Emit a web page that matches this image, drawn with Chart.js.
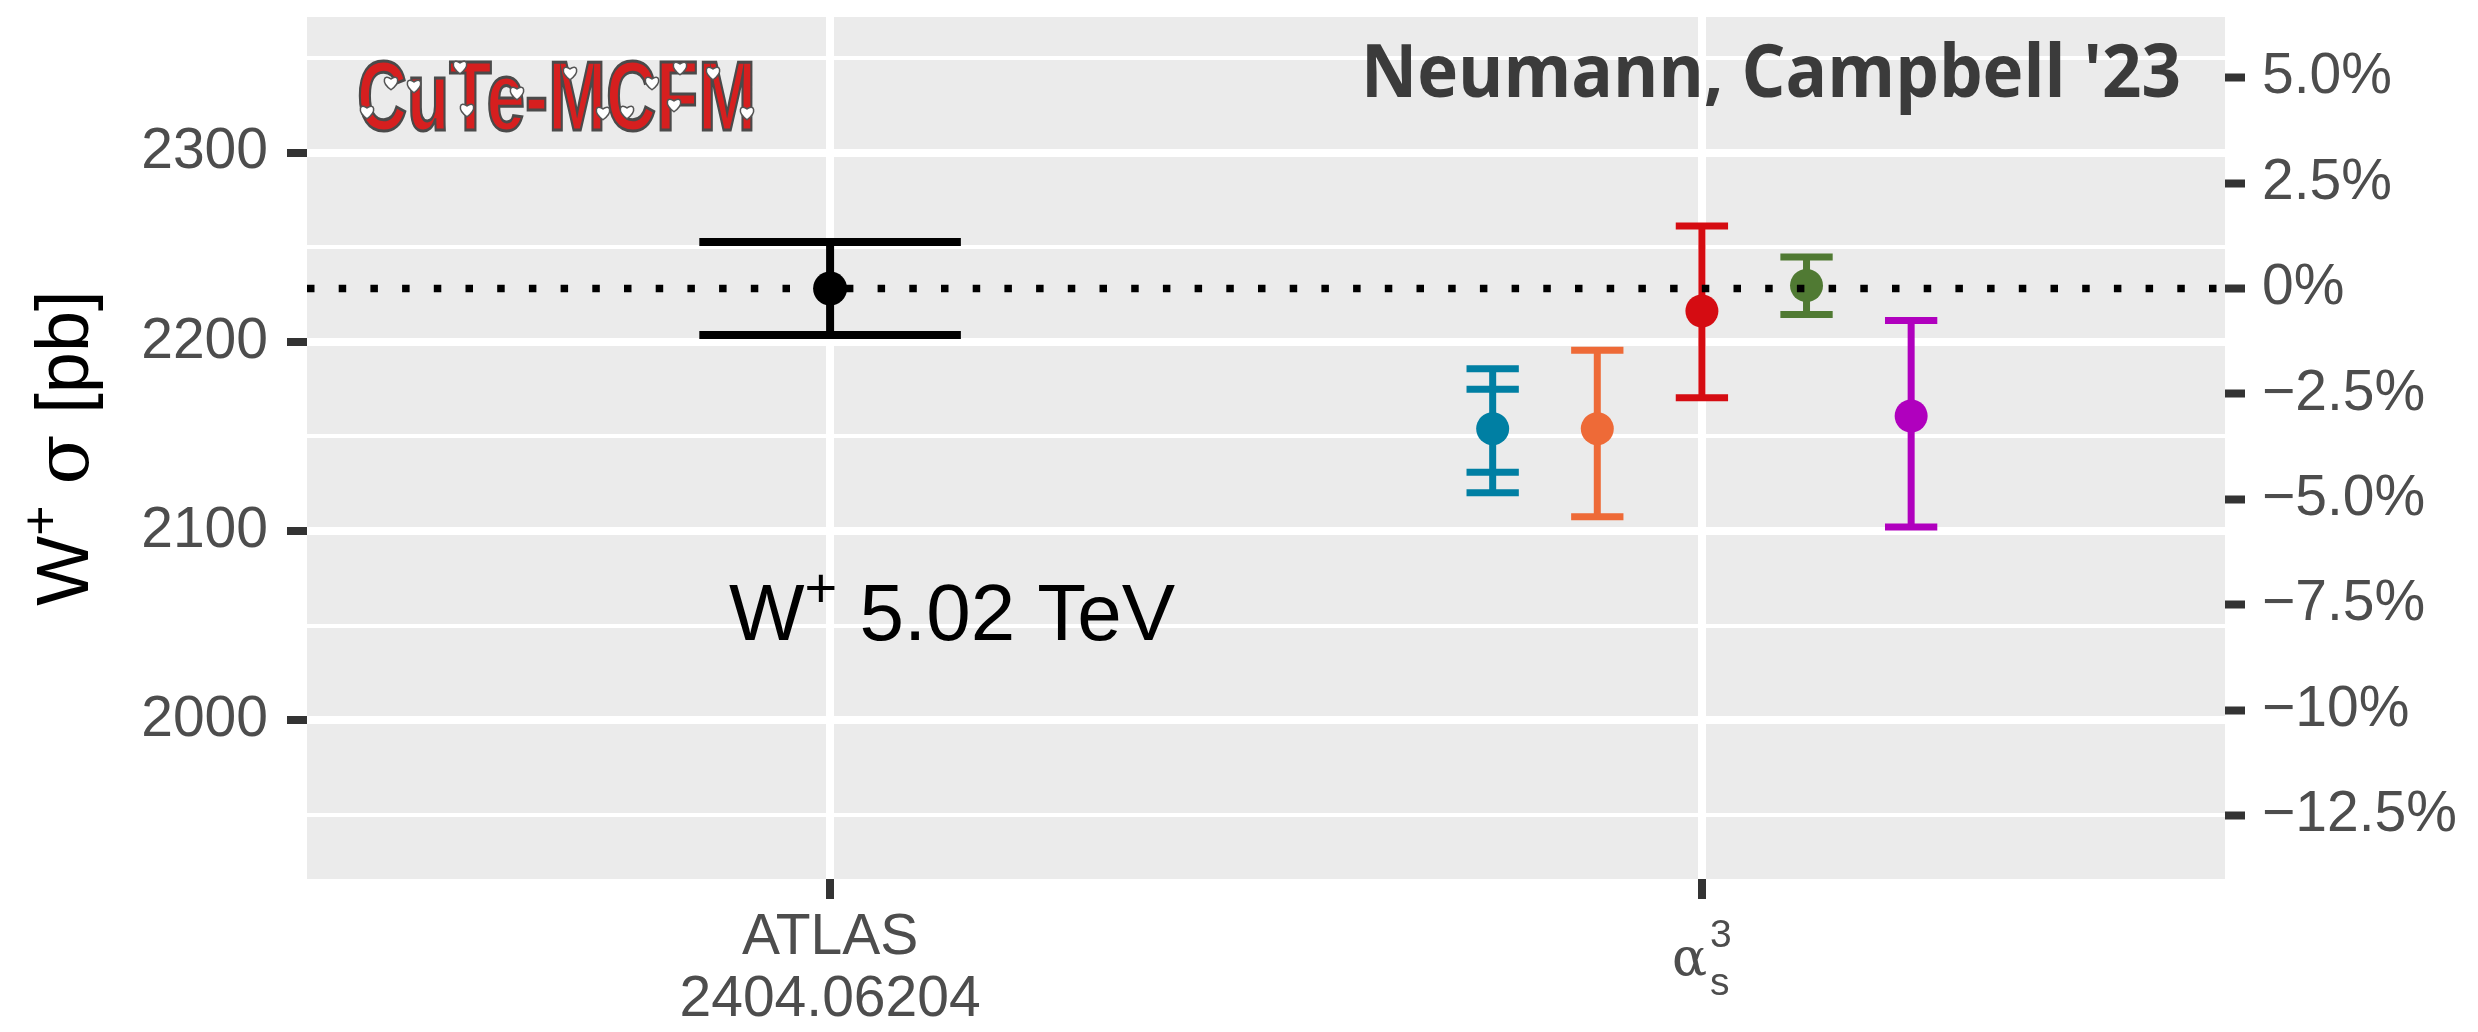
<!DOCTYPE html>
<html>
<head>
<meta charset="utf-8">
<script src="https://cdn.jsdelivr.net/npm/chart.js@4.4.1/dist/chart.umd.min.js"></script>
<style>
  html, body { margin: 0; padding: 0; background: #fff; }
</style>
</head>
<body>
<canvas id="chart" width="2478" height="1032"></canvas>
<script>
// categories on the x axis (second one is drawn as alpha_s^3 by hand)
const categories = [['ATLAS', '2404.06204'], 'alpha_s^3'];

// ATLAS measurement
const measCentral = [2228.2];
const measLow = [2203.6];
const measHigh = [2252.8];

// alpha_s^3 predictions
const theoryCentral = [2154.1, 2154.1, 2216.3, 2229.8, 2160.8];
const theoryLow = [2120.2, 2107.6, 2170.5, 2214.4, 2102.2];
const theoryHigh = [2185.8, 2195.5, 2261.2, 2244.9, 2211.3];
const theoryInnerLow = [2131.1, null, null, null, null];
const theoryInnerHigh = [2175.0, null, null, null, null];

// ticks
const yTicks = [1950, 2000, 2050, 2100, 2150, 2200, 2250, 2300, 2350];
const pctTicks = [5, 2.5, 0, -2.5, -5, -7.5, -10, -12.5];
const pctLabels = ['5.0%', '2.5%', '0%', '\u22122.5%', '\u22125.0%', '\u22127.5%', '\u221210%', '\u221212.5%'];

const colors = ['#007FA3', '#EE6A37', '#D50C12', '#507A33', '#B000BE'];
const Y_MIN = 1916.1, Y_MAX = 2371.7;
const DODGE = 0.12;
const REF = measCentral[0];

function errorBar(x, lo, hi, w, ilo, ihi) {
  const gap = { x: null, y: null };
  const pts = [
    { x: x, y: lo }, { x: x, y: hi }, gap,
    { x: x - w, y: hi }, { x: x + w, y: hi }, gap,
    { x: x - w, y: lo }, { x: x + w, y: lo }
  ];
  if (ilo != null) {
    pts.push(gap, { x: x - w, y: ilo }, { x: x + w, y: ilo });
    pts.push(gap, { x: x - w, y: ihi }, { x: x + w, y: ihi });
  }
  return pts;
}

function barSet(data, color, width) {
  return {
    type: 'line', data: data, borderColor: color, borderWidth: width,
    borderCapStyle: 'butt', pointRadius: 0, pointHoverRadius: 0,
    tension: 0, spanGaps: false, order: 3
  };
}

const theoryX = theoryCentral.map((v, i) => 2 + (i - 2) * DODGE);

const datasets = [
  {
    type: 'line',
    data: [{ x: 0.4, y: REF }, { x: 2.6, y: REF }],
    borderColor: '#000', borderWidth: 7.5, borderDash: [7.5, 24.2],
    borderCapStyle: 'butt', pointRadius: 0, order: 0
  },
  {
    type: 'scatter',
    data: [{ x: 1, y: measCentral[0] }],
    backgroundColor: '#000', borderWidth: 0, pointRadius: 17, order: 1
  },
  {
    type: 'scatter',
    data: theoryCentral.map((v, i) => ({ x: theoryX[i], y: v })),
    backgroundColor: colors, borderWidth: 0, pointRadius: 16.5, order: 1
  },
  barSet(errorBar(1, measLow[0], measHigh[0], 0.15), '#000', 8)
];
theoryCentral.forEach((v, i) => {
  datasets.push(barSet(errorBar(theoryX[i], theoryLow[i], theoryHigh[i], 0.03,
    theoryInnerLow[i], theoryInnerHigh[i]), colors[i], 7));
});

const tickFont = { family: "'Liberation Sans', Arial, sans-serif", size: 57 };

function heart(ctx, cx, cy) {
  const k = 1.35;
  ctx.beginPath();
  ctx.moveTo(cx, cy + 5 * k);
  ctx.bezierCurveTo(cx - 8 * k, cy - 1 * k, cx - 5 * k, cy - 7 * k, cx, cy - 3 * k);
  ctx.bezierCurveTo(cx + 5 * k, cy - 7 * k, cx + 8 * k, cy - 1 * k, cx, cy + 5 * k);
  ctx.closePath();
  ctx.fillStyle = '#fff';
  ctx.fill();
  ctx.lineWidth = 1.5;
  ctx.strokeStyle = '#555';
  ctx.stroke();
}

const hearts = [[367, 112], [391, 83], [414, 86], [460, 67], [467, 110], [517, 93], [570, 73],
  [603, 113], [627, 112], [652, 83], [680, 68], [674, 105], [713, 73], [747, 113]];

function noPad(s) {
  s.paddingTop = 0; s.paddingBottom = 0; s.paddingLeft = 0; s.paddingRight = 0;
}

const decor = {
  id: 'decor',
  beforeDraw(chart) {
    const { ctx, chartArea: a } = chart;
    ctx.save();
    ctx.fillStyle = '#fff';
    ctx.fillRect(0, 0, chart.width, chart.height);
    ctx.fillStyle = '#EBEBEB';
    ctx.fillRect(a.left, a.top, a.right - a.left, a.bottom - a.top);
    ctx.restore();
  },
  afterDraw(chart) {
    const { ctx, chartArea: a } = chart;
    ctx.save();

    // logo
    ctx.font = "bold 99px 'Liberation Sans Narrow', 'Liberation Sans', sans-serif";
    let w = ctx.measureText('CuTe-MCFM').width;
    ctx.save();
    ctx.translate(357, 130);
    ctx.scale(399 / w, 1);
    ctx.fillStyle = '#D61F1F';
    ctx.fillText('CuTe-MCFM', 0, 0);
    ctx.lineWidth = 3;
    ctx.strokeStyle = '#4a4a4a';
    ctx.strokeText('CuTe-MCFM', 0, 0);
    ctx.restore();
    hearts.forEach(h => heart(ctx, h[0], h[1]));

    // title
    ctx.font = "bold 73px 'Open Sans', sans-serif";
    w = ctx.measureText("Neumann, Campbell '23").width;
    ctx.save();
    ctx.translate(2181, 97);
    ctx.scale(820 / w, 1);
    ctx.textAlign = 'right';
    ctx.fillStyle = '#3B3B3B';
    ctx.fillText("Neumann, Campbell '23", 0, 0);
    ctx.restore();

    // annotation W+ 5.02 TeV
    ctx.fillStyle = '#000';
    ctx.textAlign = 'left';
    ctx.textBaseline = 'alphabetic';
    let x = 729;
    ctx.font = "80px 'Liberation Sans', sans-serif";
    ctx.fillText('W', x, 640);
    x += ctx.measureText('W').width;
    ctx.font = "56px 'Liberation Sans', sans-serif";
    ctx.fillText('+', x, 607);
    x += ctx.measureText('+').width;
    ctx.font = "80px 'Liberation Sans', sans-serif";
    ctx.fillText(' 5.02 TeV', x, 640);

    // y axis title
    const parts = [
      ["74px 'Liberation Sans', sans-serif", 'W', 0],
      ["52px 'Liberation Sans', sans-serif", '+', -30],
      ["74px 'Liberation Sans', sans-serif", ' ', 0],
      ["74px 'DejaVu Serif', serif", '\u03C3', 0],
      ["74px 'Liberation Sans', sans-serif", ' [pb]', 0]
    ];
    let total = 0;
    parts.forEach(p => { ctx.font = p[0]; total += ctx.measureText(p[1]).width; });
    ctx.save();
    ctx.translate(88, (a.top + a.bottom) / 2);
    ctx.rotate(-Math.PI / 2);
    let px = -total / 2;
    parts.forEach(p => {
      ctx.font = p[0];
      ctx.fillText(p[1], px, p[2]);
      px += ctx.measureText(p[1]).width;
    });
    ctx.restore();

    // alpha_s^3 tick label
    const xc = chart.scales.x.getPixelForValue(2);
    ctx.fillStyle = '#4D4D4D';
    ctx.font = "52px 'DejaVu Serif', serif";
    ctx.fillText('\u03B1', xc - 30, 975);
    ctx.font = "39px 'Liberation Sans', sans-serif";
    ctx.fillText('3', xc + 8, 947);
    ctx.fillText('s', xc + 8, 995);

    ctx.restore();
  }
};

new Chart(document.getElementById('chart'), {
  type: 'scatter',
  data: { datasets: datasets },
  options: {
    responsive: false,
    devicePixelRatio: 1,
    animation: false,
    events: [],
    layout: { padding: { top: 12, left: 0, right: 0, bottom: 0 } },
    plugins: { legend: { display: false }, tooltip: { enabled: false } },
    scales: {
      x: {
        type: 'linear', position: 'bottom', min: 0.4, max: 2.6,
        afterBuildTicks: s => { s.ticks = [{ value: 1 }, { value: 2 }]; },
        afterFit: s => { s.height = 153; noPad(s); },
        border: { display: false },
        grid: { color: '#fff', lineWidth: 8, tickColor: '#333', tickWidth: 8, tickLength: 20 },
        ticks: {
          autoSkip: false, maxRotation: 0, padding: 8, color: '#4D4D4D',
          font: Object.assign({ lineHeight: 1.095 }, tickFont),
          callback: (v, i) => (Array.isArray(categories[i]) ? categories[i] : '')
        }
      },
      y: {
        type: 'linear', position: 'left', min: Y_MIN, max: Y_MAX,
        afterBuildTicks: s => { s.ticks = yTicks.map(v => ({ value: v })); },
        afterFit: s => { s.width = 307; noPad(s); },
        border: { display: false },
        grid: {
          color: '#fff',
          lineWidth: c => (c.tick && c.tick.value % 100 === 0 ? 8 : 4),
          tickColor: c => (c.tick && c.tick.value % 100 === 0 ? '#333' : 'rgba(0,0,0,0)'),
          tickWidth: 8, tickLength: 20
        },
        ticks: {
          padding: 19, color: '#4D4D4D', font: tickFont,
          callback: v => (v % 100 === 0 ? String(v) : '')
        }
      },
      y2: {
        type: 'linear', position: 'right',
        min: (Y_MIN / REF - 1) * 100, max: (Y_MAX / REF - 1) * 100,
        afterBuildTicks: s => { s.ticks = pctTicks.slice().sort((p, q) => p - q).map(v => ({ value: v })); },
        afterFit: s => { s.width = 253; noPad(s); },
        border: { display: false },
        grid: { drawOnChartArea: false, tickColor: '#333', tickWidth: 8, tickLength: 20 },
        ticks: {
          padding: 17, color: '#4D4D4D', font: tickFont,
          callback: v => pctLabels[pctTicks.indexOf(v)]
        }
      }
    }
  },
  plugins: [decor]
});
</script>
</body>
</html>
